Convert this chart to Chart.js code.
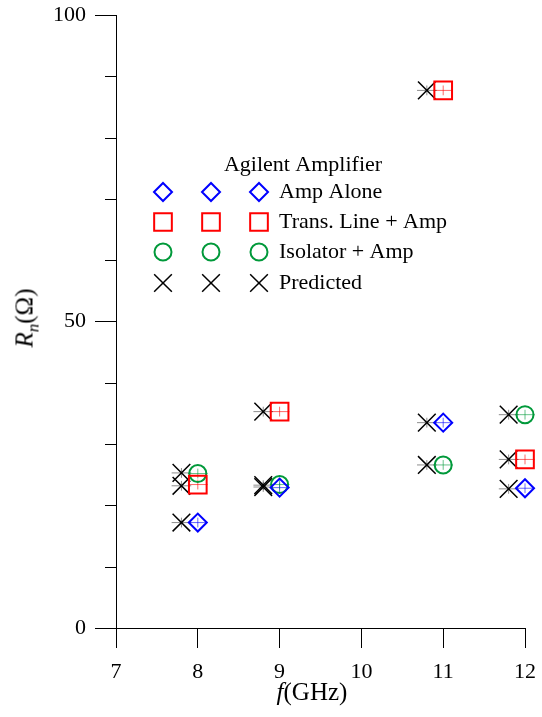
<!DOCTYPE html>
<html>
<head>
<meta charset="utf-8">
<script src="https://cdn.jsdelivr.net/npm/chart.js@4.4.0/dist/chart.umd.min.js"></script>
<style>
  body { margin: 0; background: #fff; }
  #wrap { position: relative; width: 542px; height: 717px; }
  .axis-title { position: absolute; font-family: "Liberation Serif", serif; font-size: 25px; color: #000; white-space: nowrap; }
  #xtitle { left: 312px; top: 692px; transform: translate(-50%, -50%); }
  #ytitle { left: 27px; top: 318px; transform: translate(-50%, -50%) rotate(-90deg); }
  #ytitle sub { font-size: 17px; }
</style>
</head>
<body>
<div id="wrap">
  <canvas id="chart" width="542" height="717"></canvas>
  <div class="axis-title" id="xtitle"><i>f</i>(GHz)</div>
  <div class="axis-title" id="ytitle"><i>R<sub>n</sub></i>(Ω)</div>
</div>
<script>
// frequências medidas (GHz) e valores de Rn (ohm)
const freqs = [8, 9, 11, 12];
const ampAlone = [17.2, 22.9, 33.5, 22.8];
const transLine = [23.4, 35.3, 87.7, 27.5];
const isolator = [25.2, 23.4, 26.6, 34.8];

// pontos previstos, deslocados um pouco à esquerda
const predictedFreqs = [7.8, 7.8, 7.8, 8.8, 8.8, 8.8, 10.8, 10.8, 10.8, 11.8, 11.8, 11.8];
const predicted = [25.3, 23.2, 17.2, 35.3, 23.0, 23.3, 87.7, 33.5, 26.6, 34.8, 27.5, 22.7];

// barras de erro pequenas
const errX = 0.12;
const errY = 0.8;

const yTicksShown = [0, 50, 100];
const legendTitle = "Agilent Amplifier";
const legendLabels = ["Amp Alone", "Trans. Line + Amp", "Isolator + Amp", "Predicted"];

const FONT = '"Liberation Serif", "Times New Roman", serif';

const toPoints = (xs, ys) => xs.map((x, i) => ({ x, y: ys[i] }));

const errorBars = {
  id: "errorBars",
  beforeDatasetsDraw(chart) {
    const { ctx, scales: { x, y } } = chart;
    ctx.save();
    chart.data.datasets.forEach((ds) => {
      ctx.strokeStyle = ds.errColor;
      ctx.lineWidth = 1;
      ds.data.forEach((p) => {
        const px = x.getPixelForValue(p.x);
        const py = y.getPixelForValue(p.y);
        ctx.beginPath();
        ctx.moveTo(x.getPixelForValue(p.x - errX), py);
        ctx.lineTo(x.getPixelForValue(p.x + errX), py);
        ctx.moveTo(px, y.getPixelForValue(p.y - errY));
        ctx.lineTo(px, y.getPixelForValue(p.y + errY));
        ctx.stroke();
      });
    });
    ctx.restore();
  }
};

const minorTicks = {
  id: "minorTicks",
  afterDraw(chart) {
    const { ctx } = chart;
    const y = chart.scales.y;
    ctx.save();
    ctx.strokeStyle = "#000";
    ctx.lineWidth = 1;
    y.ticks.forEach((t) => {
      if (yTicksShown.includes(t.value)) return;
      const py = Math.round(y.getPixelForValue(t.value)) + 0.5;
      ctx.beginPath();
      ctx.moveTo(y.right - 11, py);
      ctx.lineTo(y.right, py);
      ctx.stroke();
    });
    ctx.restore();
  }
};

const customLegend = {
  id: "customLegend",
  afterDraw(chart) {
    const { ctx } = chart;
    ctx.save();
    ctx.fillStyle = "#000";
    ctx.font = "22px " + FONT;
    ctx.textBaseline = "middle";
    ctx.textAlign = "center";
    ctx.fillText(legendTitle, 303, 165);
    ctx.textAlign = "left";
    const rows = [192, 222, 252, 283];
    const cols = [163, 211, 259];
    chart.data.datasets.forEach((ds, i) => {
      cols.forEach((cx) => {
        ctx.strokeStyle = ds.borderColor;
        ctx.fillStyle = "rgba(0,0,0,0)";
        ctx.lineWidth = ds.borderWidth;
        Chart.helpers.drawPoint(ctx, { pointStyle: ds.pointStyle, radius: ds.pointRadius, borderWidth: ds.borderWidth }, cx, rows[i]);
      });
      ctx.fillStyle = "#000";
      ctx.fillText(legendLabels[i], 279, rows[i]);
    });
    ctx.restore();
  }
};

const ctx = document.getElementById("chart").getContext("2d");
new Chart(ctx, {
  type: "scatter",
  data: {
    datasets: [
      {
        label: legendLabels[0],
        data: toPoints(freqs, ampAlone),
        pointStyle: "rectRot",
        pointRadius: 9,
        borderColor: "#0000ff",
        backgroundColor: "rgba(0,0,0,0)",
        borderWidth: 2,
        clip: false,
        errColor: "rgba(0,0,255,0.6)"
      },
      {
        label: legendLabels[1],
        data: toPoints(freqs, transLine),
        pointStyle: "rect",
        pointRadius: 12.5,
        borderColor: "#ff0000",
        backgroundColor: "rgba(0,0,0,0)",
        borderWidth: 2,
        clip: false,
        errColor: "rgba(255,0,0,0.6)"
      },
      {
        label: legendLabels[2],
        data: toPoints(freqs, isolator),
        pointStyle: "circle",
        pointRadius: 8.5,
        borderColor: "#00993a",
        backgroundColor: "rgba(0,0,0,0)",
        borderWidth: 2,
        clip: false,
        errColor: "rgba(0,153,58,0.6)"
      },
      {
        label: legendLabels[3],
        data: toPoints(predictedFreqs, predicted),
        pointStyle: "crossRot",
        pointRadius: 12.5,
        borderColor: "#000",
        backgroundColor: "rgba(0,0,0,0)",
        borderWidth: 1.5,
        clip: false,
        errColor: "rgba(0,0,0,0.45)"
      }
    ]
  },
  options: {
    responsive: false,
    animation: false,
    events: [],
    layout: { padding: { top: 15, right: 17, left: 0, bottom: 0 } },
    plugins: {
      legend: { display: false },
      tooltip: { enabled: false }
    },
    scales: {
      x: {
        type: "linear",
        min: 7,
        max: 12,
        afterFit: (s) => { s.height = 89; s.paddingLeft = 0; s.paddingRight = 0; },
        border: { display: true, color: "#000", width: 1 },
        grid: { drawOnChartArea: false, drawTicks: true, tickLength: 20, tickColor: "#000" },
        ticks: { stepSize: 1, padding: 11, color: "#000", font: { family: FONT, size: 22 } }
      },
      y: {
        min: 0,
        max: 100,
        afterFit: (s) => { s.width = 116; s.paddingTop = 0; s.paddingBottom = 0; },
        border: { display: true, color: "#000", width: 1 },
        grid: {
          drawOnChartArea: false,
          drawTicks: true,
          tickLength: 21,
          tickColor: (c) => (c.tick && yTicksShown.includes(c.tick.value) ? "#000" : "rgba(0,0,0,0)")
        },
        ticks: {
          stepSize: 10,
          autoSkip: false,
          padding: 9,
          color: "#000",
          font: { family: FONT, size: 22 },
          callback: (v) => (yTicksShown.includes(v) ? v : "")
        }
      }
    }
  },
  plugins: [errorBars, minorTicks, customLegend]
});
</script>
</body>
</html>
